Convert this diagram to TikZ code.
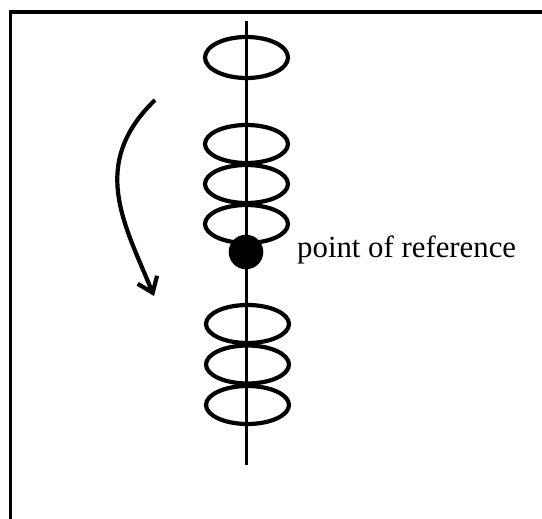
\documentclass[tikz,border=0pt]{standalone}
\usepackage{fontspec}
\setmainfont{Liberation Serif}
\usetikzlibrary{arrows.meta}

\begin{document}
\begin{tikzpicture}[x=1pt,y=-1pt,>={Straight Barb[length=14pt,width=21pt]},
    loop/.style={line width=4.2pt}]
  \useasboundingbox (0,0) rectangle (542,519);
  % frame, cut off at the right and at the bottom
  \draw[line width=3.2pt] (10.5,540)--(10.5,12)--(560,12);

  \coordinate (axtop) at (246.7,21.5);
  \coordinate (axbot) at (246.7,465);
  \coordinate (ref) at (246,252);
  \coordinate (arrstart) at (155,100);
  \coordinate (arrend) at (154,296);

  \draw[line width=3pt] (axtop)--(axbot);

  \draw[loop] (246.5,57.5) ellipse (41.5pt and 20.5pt);
  \foreach \cy in {144,184,224}
    \draw[loop] (246.5,\cy) ellipse (41.5pt and 19pt);
  \foreach \cy in {324,364.5,405}
    \draw[loop] (247.5,\cy) ellipse (41.5pt and 19pt);

  \fill (ref) circle (17.3pt);
  \node[anchor=base west,inner sep=0pt,font=\fontsize{30.8}{36}\selectfont]
    (reflabel) at (297,258) {point of reference};

  \draw[->,line width=4.2pt] (arrstart) .. controls (89,164) and (124,223) .. (arrend);
\end{tikzpicture}
\end{document}
